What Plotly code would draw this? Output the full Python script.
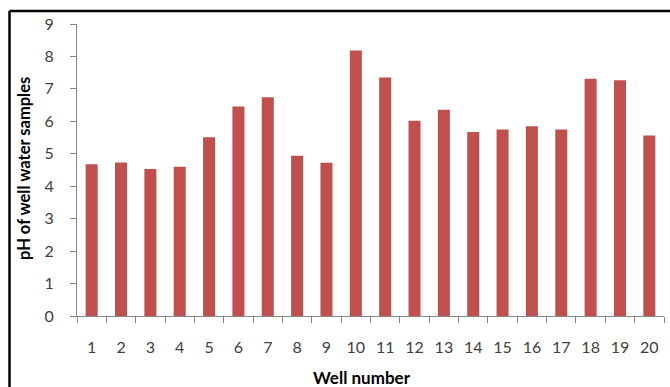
import plotly.graph_objects as go

# Well numbers and measured pH of the water samples
wells = [str(i) for i in range(1, 21)]
ph_values = [4.68, 4.73, 4.53, 4.60, 5.51, 6.46, 6.74, 4.94, 4.72, 8.18,
             7.35, 6.02, 6.36, 5.67, 5.75, 5.85, 5.75, 7.31, 7.27, 5.56]
y_ticks = list(range(0, 10))

W, H = 670, 387
L, R, T, B = 77, 6, 24, 71
pw, ph = W - L - R, H - T - B


def px(x):
    return (x - L) / pw


def py(y):
    return (H - B - y) / ph


fig = go.Figure(go.Bar(
    x=wells, y=ph_values,
    marker=dict(color="#C0504D", line=dict(width=0)),
))

axis_grey = "#868686"
tick_font = dict(family="Lato, Carlito, sans-serif", size=16, color="#404040")

fig.update_layout(
    width=W, height=H,
    margin=dict(l=L, r=R, t=T, b=B),
    paper_bgcolor="white", plot_bgcolor="white",
    bargap=0.59,
    showlegend=False,
    xaxis=dict(
        type="category",
        tickson="boundaries",
        ticks="outside", ticklen=6, tickcolor=axis_grey, tickwidth=1,
        showline=True, linecolor=axis_grey, linewidth=1,
        showgrid=False, zeroline=False,
        tickfont=tick_font,
        ticklabelstandoff=17,
    ),
    yaxis=dict(
        range=[0, 9],
        tickvals=y_ticks,
        ticks="outside", ticklen=6, tickcolor=axis_grey, tickwidth=1,
        showline=True, linecolor=axis_grey, linewidth=1,
        showgrid=False, zeroline=False,
        tickfont=tick_font,
        ticklabelstandoff=13,
    ),
    shapes=[
        # frame around the chart (top and left edges)
        dict(type="line", xref="paper", yref="paper",
             x0=px(9.5), x1=px(672), y0=py(11), y1=py(11),
             line=dict(color="black", width=2.5)),
        dict(type="line", xref="paper", yref="paper",
             x0=px(9.5), x1=px(9.5), y0=py(11), y1=py(390),
             line=dict(color="black", width=2.5)),
    ],
    annotations=[
        dict(text="<b>Well number</b>", xref="paper", yref="paper",
             x=px(362), y=py(377), showarrow=False,
             xanchor="center", yanchor="middle",
             font=dict(family="Lato, Carlito, sans-serif", size=17, color="black")),
        dict(text="<b>pH of well water samples</b>", xref="paper", yref="paper",
             x=px(24), y=py(169), showarrow=False, textangle=-90,
             xanchor="center", yanchor="middle",
             font=dict(family="Lato, Carlito, sans-serif", size=16.5, color="black")),
    ],
)

fig.write_html("out.html")
